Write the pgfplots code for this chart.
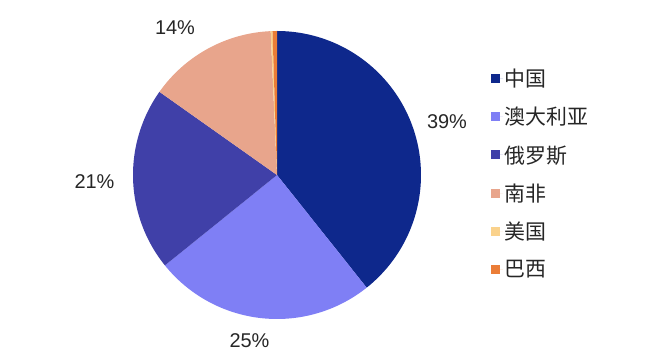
\documentclass[border=0pt]{standalone}
\usepackage{fontspec}
\setmainfont{Liberation Sans}
\newfontfamily\cjk{Noto Sans CJK SC}
\usepackage{pgfplots}
\pgfplotsset{compat=1.18}
\definecolor{cChina}{RGB}{14,40,140}
\definecolor{cAus}{RGB}{127,127,245}
\definecolor{cRus}{RGB}{64,64,168}
\definecolor{cSA}{RGB}{232,165,140}
\definecolor{cUS}{RGB}{250,210,140}
\definecolor{cBR}{RGB}{235,125,55}
\definecolor{txt}{RGB}{38,38,38}
% shares (percent), clockwise from 12 o'clock
\def\vA{39.3}\def\vB{24.9}\def\vC{20.6}\def\vD{14.5}\def\vE{0.2}\def\vF{0.5}
\pgfmathsetmacro{\aA}{0}
\pgfmathsetmacro{\aB}{3.6*\vA}
\pgfmathsetmacro{\aC}{3.6*(\vA+\vB)}
\pgfmathsetmacro{\aD}{3.6*(\vA+\vB+\vC)}
\pgfmathsetmacro{\aE}{3.6*(\vA+\vB+\vC+\vD)}
\pgfmathsetmacro{\aF}{3.6*(\vA+\vB+\vC+\vD+\vE)}
\pgfmathsetmacro{\aG}{3.6*(\vA+\vB+\vC+\vD+\vE+\vF)}
\def\cx{277}\def\cy{186}\def\rr{144}
\begin{document}
\begin{tikzpicture}
\begin{axis}[
  width=647bp, height=361bp, scale only axis,
  xmin=0, xmax=647, ymin=0, ymax=361,
  hide axis, clip=false,
  legend style={at={(axis cs:491,294)}, anchor=north west, draw=none, fill=none,
    font=\cjk\fontsize{21}{21}\selectfont, text=txt, row sep=16.3bp,
    inner sep=0pt, nodes={inner sep=1.5bp}},
  legend cell align=left,
  legend image code/.code={\fill[#1] (0bp,-4.5bp) rectangle (9bp,4.5bp); \path (0bp,0bp) -- (12bp,0bp);},
  every axis plot/.append style={draw=none, samples=80, variable=\t},
]
\path (rel axis cs:0,0) rectangle (rel axis cs:1,1);
\addplot[fill=cChina, domain=\aA:\aB] ({\cx+\rr*sin(\t)},{\cy+\rr*cos(\t)}) -- (axis cs:\cx,\cy) -- cycle;
\addlegendentry{中国}
\addplot[fill=cAus, domain=\aB:\aC] ({\cx+\rr*sin(\t)},{\cy+\rr*cos(\t)}) -- (axis cs:\cx,\cy) -- cycle;
\addlegendentry{澳大利亚}
\addplot[fill=cRus, domain=\aC:\aD] ({\cx+\rr*sin(\t)},{\cy+\rr*cos(\t)}) -- (axis cs:\cx,\cy) -- cycle;
\addlegendentry{俄罗斯}
\addplot[fill=cSA, domain=\aD:\aE] ({\cx+\rr*sin(\t)},{\cy+\rr*cos(\t)}) -- (axis cs:\cx,\cy) -- cycle;
\addlegendentry{南非}
\addplot[fill=cUS, domain=\aE:\aF, samples=5] ({\cx+\rr*sin(\t)},{\cy+\rr*cos(\t)}) -- (axis cs:\cx,\cy) -- cycle;
\addlegendentry{美国}
\addplot[fill=cBR, domain=\aF:\aG, samples=5] ({\cx+\rr*sin(\t)},{\cy+\rr*cos(\t)}) -- (axis cs:\cx,\cy) -- cycle;
\addlegendentry{巴西}
\begin{scope}[every node/.style={font=\fontsize{20}{20}\selectfont, text=txt, inner sep=0pt}]
\node at (axis cs:447,239) {39\%};
\node at (axis cs:249.5,20.5) {25\%};
\node at (axis cs:94.5,179) {21\%};
\node at (axis cs:175,333) {14\%};
\end{scope}
\end{axis}
\end{tikzpicture}
\end{document}
